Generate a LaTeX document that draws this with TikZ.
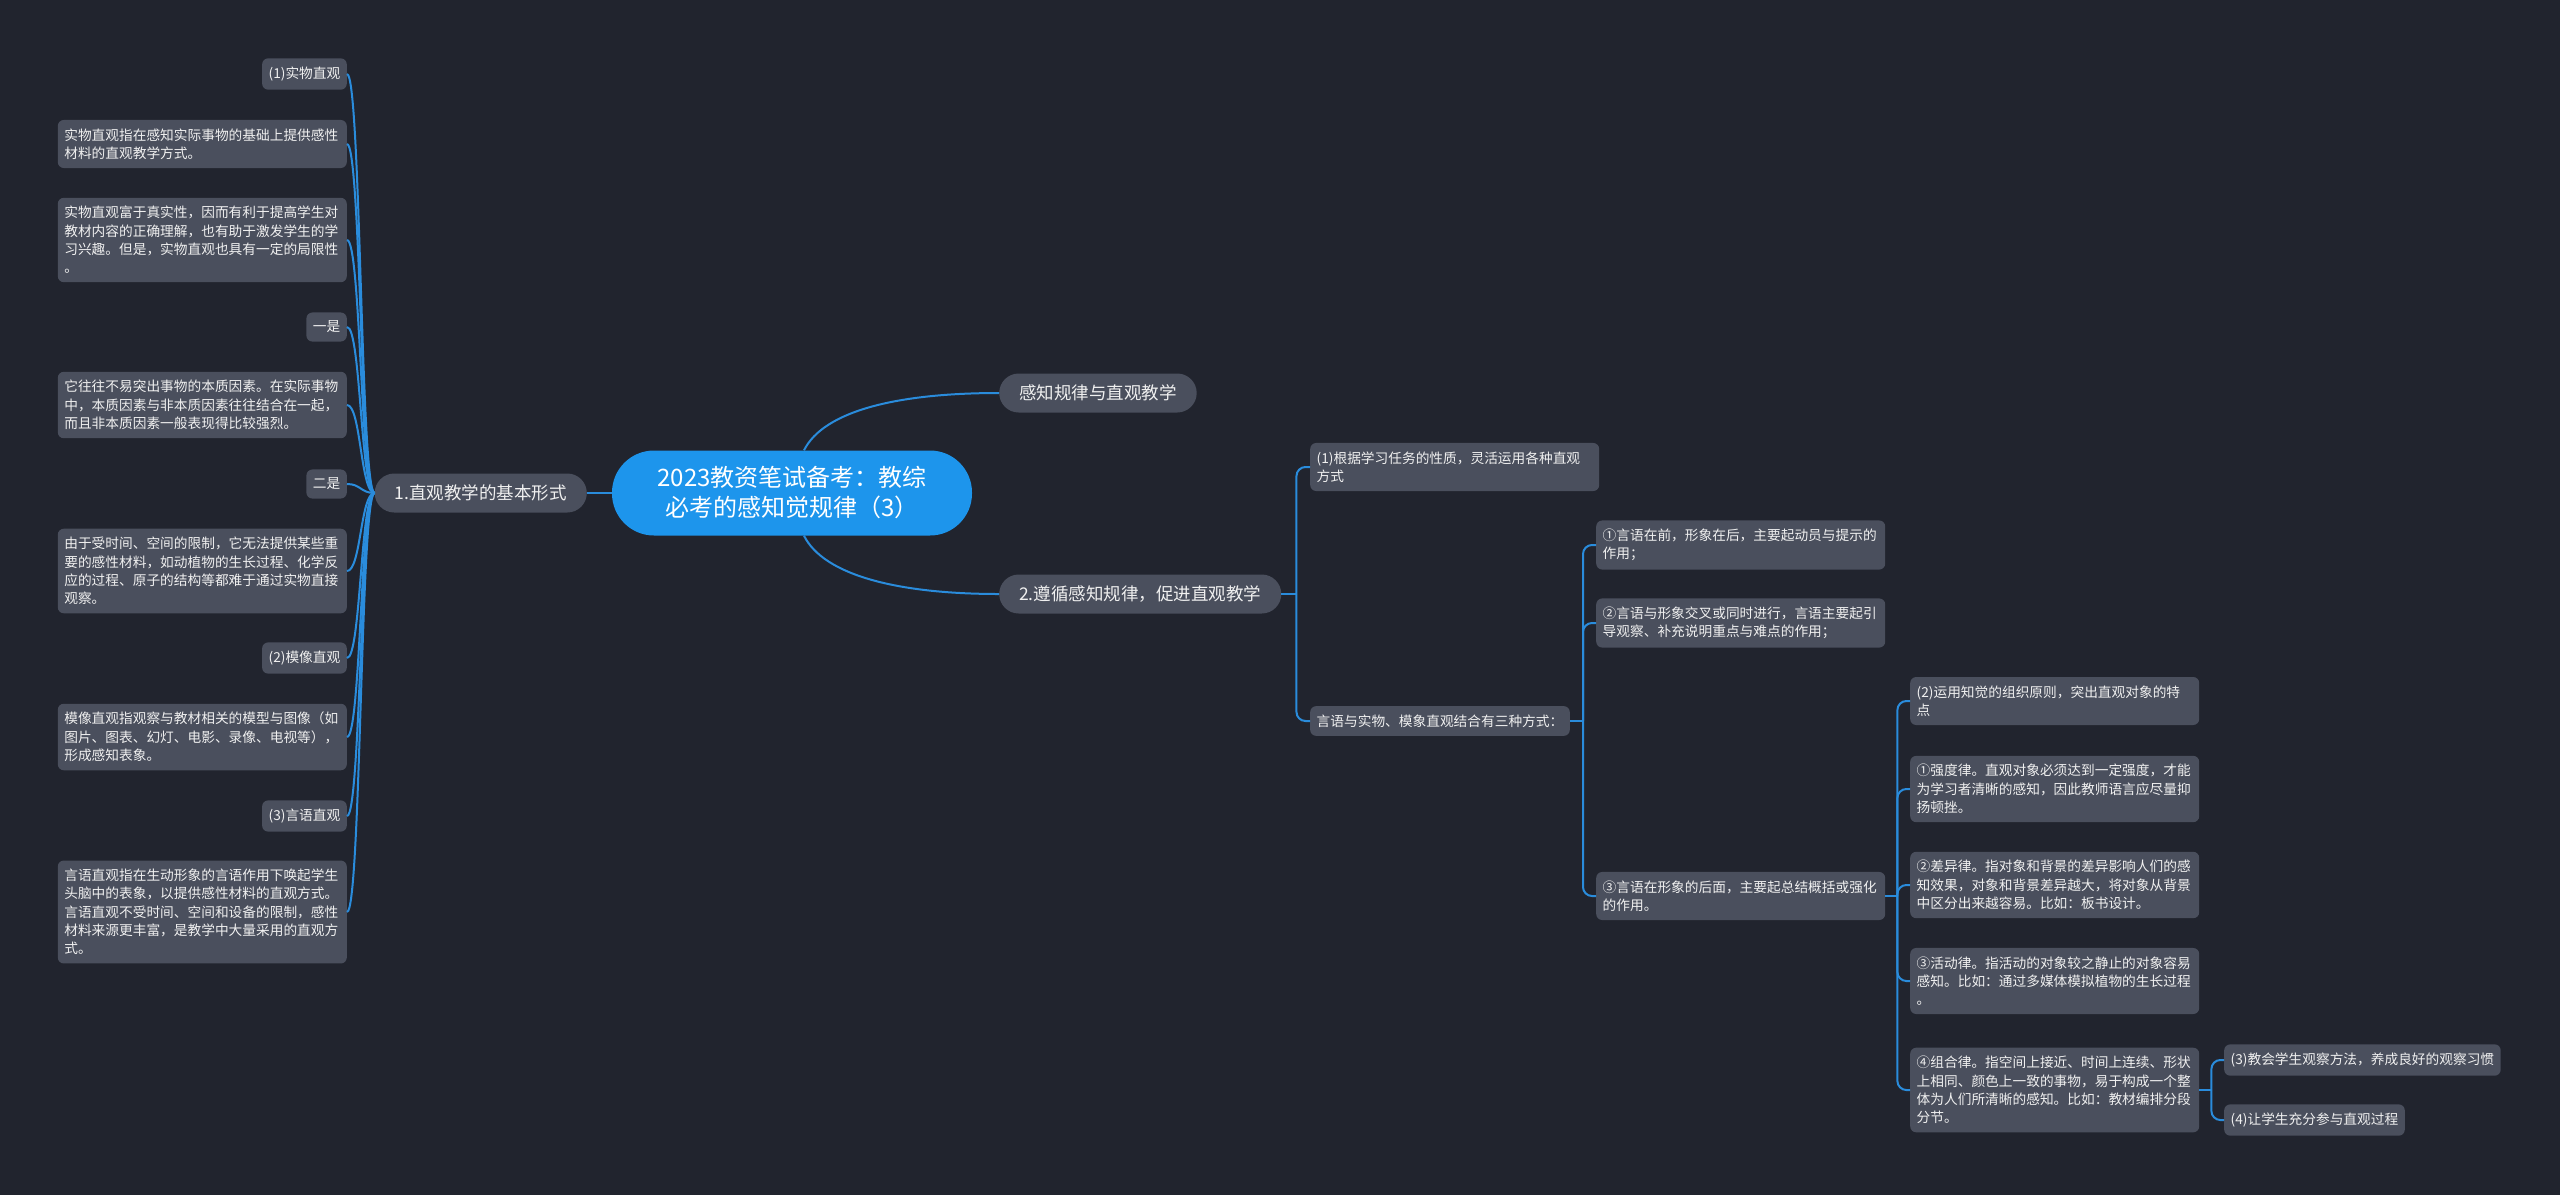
\documentclass[tikz,border=0pt]{standalone}
\usepackage{fontspec}
\setmainfont{Noto Sans CJK SC}
\usetikzlibrary{calc}

\definecolor{bgdark}{HTML}{21242E}
\definecolor{boxgray}{HTML}{4A4F5D}
\definecolor{rootblue}{HTML}{1D95EC}
\definecolor{linkblue}{HTML}{2A8CDC}
\definecolor{txtwhite}{HTML}{F0F0F0}

\begin{document}
\begin{tikzpicture}[x=1pt, y=-1pt,
  link/.style={draw=linkblue, line width=2pt},
  elbow/.style={link, rounded corners=9pt},
  leaf/.style={fill=boxgray, text=txtwhite, rounded corners=6pt, inner xsep=6.5pt, inner ysep=8.5pt,
    align=left, font=\fontsize{13.7pt}{18.3pt}\selectfont},
  note/.style={leaf, text width=276pt},
  topic/.style={fill=boxgray, text=txtwhite, rounded corners=19.5pt, minimum height=39pt,
    inner xsep=20pt, font=\fontsize{17.5pt}{21pt}\selectfont},
  hub/.style={fill=rootblue, text=white, rounded corners=42pt, minimum width=360pt,
    minimum height=85pt, align=center, font=\fontsize{24pt}{30pt}\selectfont}]
  % Background
  \fill[bgdark] (0,0) rectangle (2560,1195);
  \useasboundingbox (0,0) rectangle (2560,1195);
  % Root and first level
  \node[hub] (root) at (792,493) {2023教资笔试备考：教综\\必考的感知觉规律（3）};
  \node[topic, anchor=east] (basic) at (587,493) {1.直观教学的基本形式};
  \node[topic, anchor=west] (perc) at (999,393) {感知规律与直观教学};
  \node[topic, anchor=west] (follow) at (999,594) {2.遵循感知规律，促进直观教学};
  \draw[link] (root.west) -- (basic.east);
  \draw[link] ([xshift=12pt]root.north) .. controls +(20,-40) and +(-100,0) .. (perc.west);
  \draw[link] ([xshift=12pt]root.south) .. controls +(20,40) and +(-100,0) .. (follow.west);
  % Left branch
  \node[leaf, anchor=east] (real) at (347,74) {(1)实物直观};
  \node[note, anchor=east] (realdef) at (347,144) {实物直观指在感知实际事物的基础上提供感性\\材料的直观教学方式。};
  \node[note, anchor=east] (realpro) at (347,240) {实物直观富于真实性，因而有利于提高学生对\\教材内容的正确理解，也有助于激发学生的学\\习兴趣。但是，实物直观也具有一定的局限性\\。};
  \node[leaf, anchor=east] (one) at (347,327) {一是};
  \node[note, anchor=east] (onetxt) at (347,405) {它往往不易突出事物的本质因素。在实际事物\\中，本质因素与非本质因素往往结合在一起，\\而且非本质因素一般表现得比较强烈。};
  \node[leaf, anchor=east] (two) at (347,484) {二是};
  \node[note, anchor=east] (twotxt) at (347,571) {由于受时间、空间的限制，它无法提供某些重\\要的感性材料，如动植物的生长过程、化学反\\应的过程、原子的结构等都难于通过实物直接\\观察。};
  \node[leaf, anchor=east] (model) at (347,658) {(2)模像直观};
  \node[note, anchor=east] (modeldef) at (347,737) {模像直观指观察与教材相关的模型与图像（如\\图片、图表、幻灯、电影、录像、电视等），\\形成感知表象。};
  \node[leaf, anchor=east] (verbal) at (347,816) {(3)言语直观};
  \node[note, anchor=east] (verbaldef) at (347,912) {言语直观指在生动形象的言语作用下唤起学生\\头脑中的表象，以提供感性材料的直观方式。\\言语直观不受时间、空间和设备的限制，感性\\材料来源更丰富，是教学中大量采用的直观方\\式。};
  \draw[link] (basic.west) .. controls +(-14,0) and +(14,0) .. (real.east);
  \draw[link] (basic.west) .. controls +(-14,0) and +(14,0) .. (realdef.east);
  \draw[link] (basic.west) .. controls +(-14,0) and +(14,0) .. (realpro.east);
  \draw[link] (basic.west) .. controls +(-14,0) and +(14,0) .. (one.east);
  \draw[link] (basic.west) .. controls +(-14,0) and +(14,0) .. (onetxt.east);
  \draw[link] (basic.west) .. controls +(-14,0) and +(14,0) .. (two.east);
  \draw[link] (basic.west) .. controls +(-14,0) and +(14,0) .. (twotxt.east);
  \draw[link] (basic.west) .. controls +(-14,0) and +(14,0) .. (model.east);
  \draw[link] (basic.west) .. controls +(-14,0) and +(14,0) .. (modeldef.east);
  \draw[link] (basic.west) .. controls +(-14,0) and +(14,0) .. (verbal.east);
  \draw[link] (basic.west) .. controls +(-14,0) and +(14,0) .. (verbaldef.east);
  % Right branch
  \node[note, anchor=west] (flex) at (1310,467) {(1)根据学习任务的性质，灵活运用各种直观\\方式};
  \node[leaf, anchor=west] (combo) at (1310,721) {言语与实物、模象直观结合有三种方式：};
  \draw[link] (follow.east) -- ++(15,0);
  \draw[elbow] ([xshift=15pt]follow.east) |- (flex.west);
  \draw[elbow] ([xshift=15pt]follow.east) |- (combo.west);
  % Three ways
  \node[note, anchor=west] (pre) at (1596,545) {①言语在前，形象在后，主要起动员与提示的\\作用；};
  \node[note, anchor=west] (cross) at (1596,623) {②言语与形象交叉或同时进行，言语主要起引\\导观察、补充说明重点与难点的作用；};
  \node[note, anchor=west] (post) at (1596,896) {③言语在形象的后面，主要起总结概括或强化\\的作用。};
  \draw[link] (combo.east) -- ++(13,0);
  \draw[elbow] ([xshift=13pt]combo.east) |- (pre.west);
  \draw[elbow] ([xshift=13pt]combo.east) |- (cross.west);
  \draw[elbow] ([xshift=13pt]combo.east) |- (post.west);
  % Laws of perception
  \node[note, anchor=west] (org) at (1910,701) {(2)运用知觉的组织原则，突出直观对象的特\\点};
  \node[note, anchor=west] (strong) at (1910,789) {①强度律。直观对象必须达到一定强度，才能\\为学习者清晰的感知，因此教师语言应尽量抑\\扬顿挫。};
  \node[note, anchor=west] (diff) at (1910,885) {②差异律。指对象和背景的差异影响人们的感\\知效果，对象和背景差异越大，将对象从背景\\中区分出来越容易。比如：板书设计。};
  \node[note, anchor=west] (motion) at (1910,981) {③活动律。指活动的对象较之静止的对象容易\\感知。比如：通过多媒体模拟植物的生长过程\\。};
  \node[note, anchor=west] (group) at (1910,1090) {④组合律。指空间上接近、时间上连续、形状\\上相同、颜色上一致的事物，易于构成一个整\\体为人们所清晰的感知。比如：教材编排分段\\分节。};
  \draw[link] (post.east) -- ++(12,0);
  \draw[elbow] ([xshift=12pt]post.east) |- (org.west);
  \draw[elbow] ([xshift=12pt]post.east) |- (strong.west);
  \draw[elbow] ([xshift=12pt]post.east) |- (diff.west);
  \draw[elbow] ([xshift=12pt]post.east) |- (motion.west);
  \draw[elbow] ([xshift=12pt]post.east) |- (group.west);
  % Last two
  \node[leaf, anchor=west] (teach) at (2224,1060) {(3)教会学生观察方法，养成良好的观察习惯};
  \node[leaf, anchor=west] (part) at (2224,1120) {(4)让学生充分参与直观过程};
  \draw[link] (group.east) -- ++(12,0);
  \draw[elbow] ([xshift=12pt]group.east) |- (teach.west);
  \draw[elbow] ([xshift=12pt]group.east) |- (part.west);
\end{tikzpicture}
\end{document}
